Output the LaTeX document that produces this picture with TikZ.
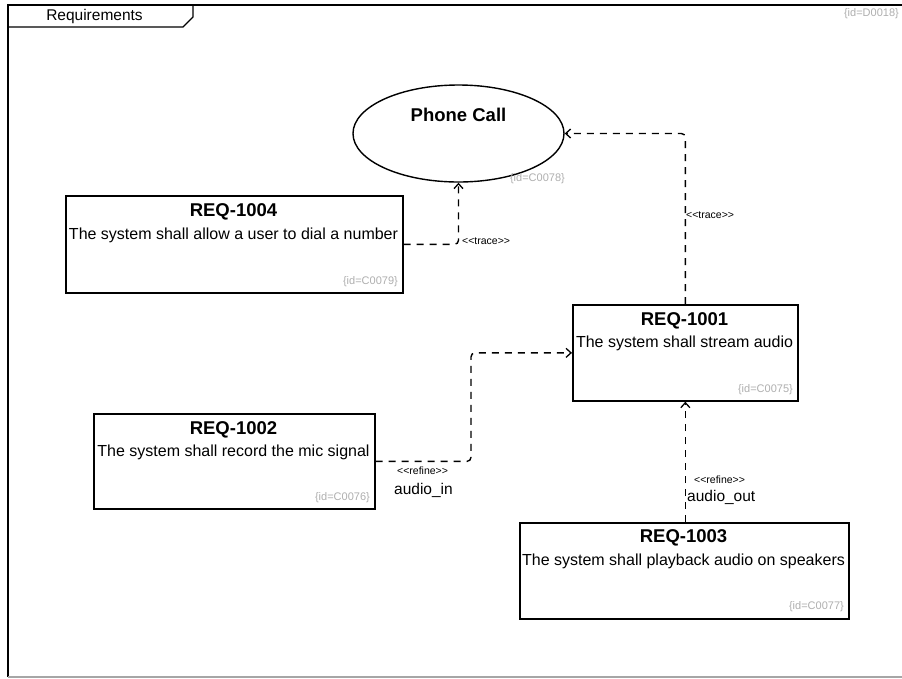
\documentclass[tikz,border=0pt]{standalone}
\usepackage{fontspec}
\setmainfont{Liberation Sans}
\usetikzlibrary{shapes.geometric,arrows.meta,calc}
\definecolor{idgray}{RGB}{175,175,175}
\tikzset{
  reqbox/.style={draw=black, line width=1.7pt, rectangle, anchor=north west, inner sep=0pt},
  title/.style={font=\fontsize{18.5}{21}\selectfont\bfseries, inner sep=0pt},
  body/.style={font=\fontsize{16}{19}\selectfont, inner sep=0pt},
  idlab/.style={font=\fontsize{11}{13}\selectfont, text=idgray, inner sep=0pt, anchor=east},
  stereo/.style={font=\fontsize{10.5}{12}\selectfont, inner sep=0pt, anchor=west},
  portlab/.style={font=\fontsize{15.5}{18}\selectfont, inner sep=0pt, anchor=west},
  dep/.style={draw=black, line width=1.4pt, dash pattern=on 7pt off 6pt, rounded corners=4pt,
              -{Straight Barb[length=5pt,width=9pt,line width=1.3pt]}},
}
\begin{document}
\begin{tikzpicture}[x=1pt,y=-1pt]
\useasboundingbox (0,0) rectangle (902,678);
\clip (0,0) rectangle (902,678);
\fill[white] (0,0) rectangle (902,678);
% frame
\draw[line width=1.3pt, black] (8,677) -- (8,5) -- (910,5);
\draw[line width=1.3pt, black!35] (8,677) -- (910,677);
\draw[line width=1.3pt] (8,27) -- (183,27) -- (193,17) -- (193,5);
\node[font=\fontsize{15.5}{18}\selectfont, inner sep=0pt] (ftitle) at (94.5,16) {Requirements};
\node[idlab] (fid) at (899,14) {\{id=D0018\}};
% Phone call
\node[ellipse, draw, line width=1.4pt, minimum width=211pt, minimum height=97pt, inner sep=0pt] (pc) at (458.5,133.5) {};
\node[title] (pct) at (458.5,115) {Phone Call};
\node[idlab] (pcid) at (565,179) {\{id=C0078\}};
% REQ-1004
\node[reqbox, minimum width=337pt, minimum height=97pt] (r4) at (65,195) {};
\node[title] (r4t) at (233.5,212) {REQ-1004};
\node[body] (r4b) at (233.5,235) {The system shall allow a user to dial a number};
\node[idlab] (r4id) at (398,282) {\{id=C0079\}};
% REQ-1001
\node[reqbox, minimum width=225pt, minimum height=96pt] (r1) at (572,304) {};
\node[title] (r1t) at (684.5,321) {REQ-1001};
\node[body] (r1b) at (684.5,343) {The system shall stream audio};
\node[idlab] (r1id) at (793,390) {\{id=C0075\}};
% REQ-1002
\node[reqbox, minimum width=281pt, minimum height=95pt] (r2) at (93,413) {};
\node[title] (r2t) at (233.5,430) {REQ-1002};
\node[body] (r2b) at (233.5,452) {The system shall record the mic signal};
\node[idlab] (r2id) at (370,498) {\{id=C0076\}};
% REQ-1003
\node[reqbox, minimum width=329pt, minimum height=96pt] (r3) at (519,522) {};
\node[title] (r3t) at (683.5,538) {REQ-1003};
\node[body] (r3b) at (683.5,561) {The system shall playback audio on speakers};
\node[idlab] (r3id) at (844,607) {\{id=C0077\}};
% connectors
\draw[dep] (r4.east) -| (pc.south);
\node[stereo] (tr1) at (462,241) {<\kern0pt<trace>\kern0pt>};
\draw[dep] (r1.north) |- (pc.east);
\node[stereo] (tr2) at (686,215) {<\kern0pt<trace>\kern0pt>};
\coordinate (m) at (471,0);
\draw[dep] (r2.east) -| (m |- r1.west) -- (r1.west);
\node[stereo] (rf1) at (397,471) {<\kern0pt<refine>\kern0pt>};
\node[portlab] (ai) at (394,490) {audio\_in};
\draw[dep] (r1.south |- r3.north) -- (r1.south);
\node[stereo] (rf2) at (694,480) {<\kern0pt<refine>\kern0pt>};
\node[portlab] (ao) at (687,497) {audio\_out};
\end{tikzpicture}
\end{document}
